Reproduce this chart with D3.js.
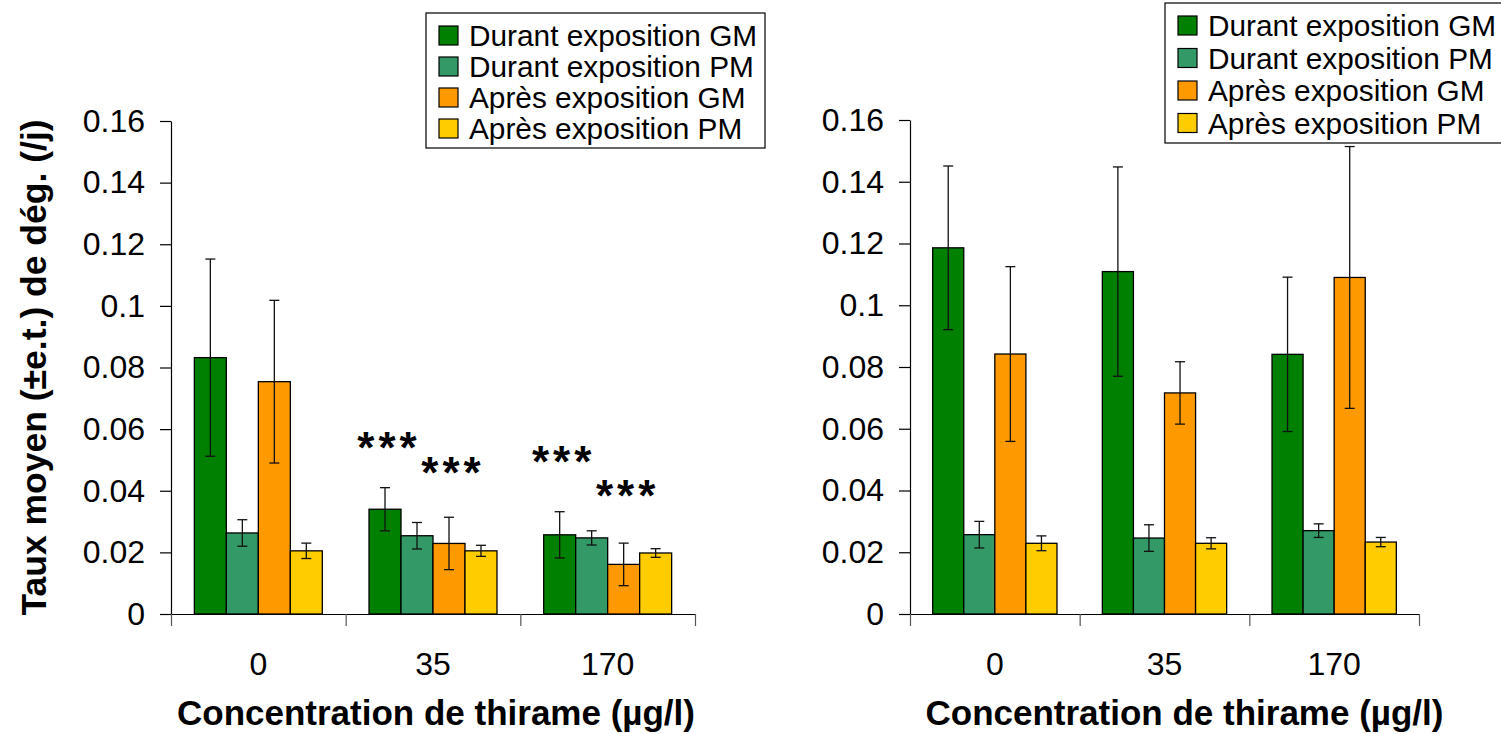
<!DOCTYPE html>
<html>
<head>
<meta charset="utf-8">
<script src="https://cdn.jsdelivr.net/npm/d3@7"></script>
<style>
  body { margin: 0; background: #fff; }
  svg { display: block; font-family: "Liberation Sans", Arial, sans-serif; }
</style>
</head>
<body>
<script>
var categories = ["0", "35", "170"];
var seriesNames = ["Durant exposition GM", "Durant exposition PM", "Après exposition GM", "Après exposition PM"];
var seriesColors = ["#008000", "#339966", "#FF9900", "#FFCC00"];
var yTicks = [0, 0.02, 0.04, 0.06, 0.08, 0.1, 0.12, 0.14, 0.16];

// left panel (means and standard errors per concentration)
var durantGM_A = [0.0832, 0.0340, 0.0257];
var durantGM_A_err = [0.0320, 0.0070, 0.0075];
var durantPM_A = [0.0263, 0.0254, 0.0247];
var durantPM_A_err = [0.0043, 0.0043, 0.0023];
var apresGM_A = [0.0754, 0.0229, 0.0161];
var apresGM_A_err = [0.0264, 0.0085, 0.0069];
var apresPM_A = [0.0205, 0.0205, 0.0198];
var apresPM_A_err = [0.0025, 0.0018, 0.0014];

// right panel
var durantGM_B = [0.1186, 0.1109, 0.0841];
var durantGM_B_err = [0.0265, 0.0339, 0.0250];
var durantPM_B = [0.0257, 0.0246, 0.0270];
var durantPM_B_err = [0.0043, 0.0043, 0.0022];
var apresGM_B = [0.0842, 0.0716, 0.1090];
var apresGM_B_err = [0.0283, 0.0101, 0.0424];
var apresPM_B = [0.0229, 0.0229, 0.0233];
var apresPM_B_err = [0.0024, 0.0018, 0.0015];

// significance marks (left panel): category, series index, height in data units
var starsCat = ["35", "35", "170", "170"];
var starsSeries = [0, 2, 0, 2];
var starsValue = [0.0572, 0.0489, 0.0525, 0.0415];

var xTitle = "Concentration de thirame (µg/l)";
var yTitle = "Taux moyen (±e.t.) de dég. (/j)";

var svg = d3.select("body").append("svg")
    .attr("width", 1501)
    .attr("height", 734);

drawPanel({
  left: 171, right: 695, top: 121, bottom: 614,
  means: [durantGM_A, durantPM_A, apresGM_A, apresPM_A],
  errs: [durantGM_A_err, durantPM_A_err, apresGM_A_err, apresPM_A_err],
  legendTop: 13, legendRow: 31, legendH: 135, legendW: 339,
  titleShift: 3, yTitle: true, stars: true
});

drawPanel({
  left: 910, right: 1419, top: 120, bottom: 614,
  means: [durantGM_B, durantPM_B, apresGM_B, apresPM_B],
  errs: [durantGM_B_err, durantPM_B_err, apresGM_B_err, apresPM_B_err],
  legendTop: 3, legendRow: 32.5, legendH: 140, legendW: 345,
  titleShift: 20, yTitle: false, stars: false
});

function drawPanel(p) {
  var g = svg.append("g");

  var x = d3.scaleBand().domain(categories).range([p.left, p.right]);
  var xs = d3.scaleBand().domain(d3.range(seriesNames.length))
      .range([0, x.bandwidth()]).paddingOuter(0.73);
  var y = d3.scaleLinear().domain([0, 0.16]).range([p.bottom, p.top]);

  // bars
  var rows = [];
  categories.forEach(function(c, i) {
    p.means.forEach(function(s, j) {
      rows.push({c: c, j: j, v: s[i], e: p.errs[j][i]});
    });
  });

  g.append("g").selectAll("rect")
    .data(rows)
    .enter().append("rect")
      .attr("x", function(d) { return x(d.c) + xs(d.j); })
      .attr("y", function(d) { return y(d.v); })
      .attr("width", xs.bandwidth())
      .attr("height", function(d) { return y(0) - y(d.v); })
      .attr("fill", function(d) { return seriesColors[d.j]; })
      .attr("stroke", "#000")
      .attr("stroke-width", 1.3);

  // error bars
  var eb = g.append("g").attr("stroke", "#111").attr("stroke-width", 1.3);
  var cx = function(d) { return x(d.c) + xs(d.j) + xs.bandwidth() / 2; };
  eb.selectAll("line.v").data(rows).enter().append("line")
    .attr("class", "v")
    .attr("x1", cx).attr("x2", cx)
    .attr("y1", function(d) { return y(d.v + d.e); })
    .attr("y2", function(d) { return y(d.v - d.e); });
  [1, -1].forEach(function(sign) {
    eb.selectAll("line.c" + (sign > 0 ? "p" : "m")).data(rows).enter().append("line")
      .attr("x1", function(d) { return cx(d) - 5; })
      .attr("x2", function(d) { return cx(d) + 5; })
      .attr("y1", function(d) { return y(d.v + sign * d.e); })
      .attr("y2", function(d) { return y(d.v + sign * d.e); });
  });

  // y axis
  var ya = g.append("g")
      .attr("transform", "translate(" + p.left + ",0)")
      .call(d3.axisLeft(y)
        .tickValues(yTicks)
        .tickSize(11)
        .tickSizeOuter(0)
        .tickPadding(15)
        .tickFormat(function(d) { return String(+d.toFixed(2)); }));
  ya.selectAll("text").attr("font-size", 32).attr("fill", "#000")
    .attr("font-family", "Liberation Sans, Arial, sans-serif");
  ya.selectAll("line, path").attr("stroke", "#000").attr("stroke-width", 1.2);

  // x axis with ticks between categories
  var xb = d3.scaleLinear().domain([0, categories.length]).range([p.left, p.right]);
  var xa = g.append("g")
      .attr("transform", "translate(0," + p.bottom + ")")
      .call(d3.axisBottom(xb).ticks(categories.length).tickSize(12).tickSizeOuter(0).tickFormat(""));
  xa.selectAll("line, path").attr("stroke", "#000").attr("stroke-width", 1.2);
  xa.selectAll(".tick line").attr("stroke", "#555");

  var xl = g.append("g")
      .attr("transform", "translate(0," + p.bottom + ")")
      .call(d3.axisBottom(x).tickSize(0).tickPadding(38));
  xl.select(".domain").remove();
  xl.selectAll("text").attr("font-size", 32).attr("fill", "#000")
    .attr("font-family", "Liberation Sans, Arial, sans-serif");

  g.append("text")
    .attr("x", (p.left + p.right) / 2 + p.titleShift)
    .attr("y", p.bottom + 111)
    .attr("text-anchor", "middle")
    .attr("font-size", 35)
    .attr("font-weight", "bold")
    .text(xTitle);

  if (p.yTitle) {
    g.append("text")
      .attr("transform", "translate(46," + ((p.top + p.bottom) / 2) + ") rotate(-90)")
      .attr("text-anchor", "middle")
      .attr("font-size", 35.5)
      .attr("font-weight", "bold")
      .text(yTitle);
  }

  if (p.stars) {
    g.append("g").selectAll("text")
      .data(starsValue)
      .enter().append("text")
        .attr("x", function(d, i) { return x(starsCat[i]) + xs(starsSeries[i]) + xs.bandwidth() / 2; })
        .attr("y", function(d) { return y(d) + 25; })
        .attr("dx", 4)
        .attr("text-anchor", "middle")
        .attr("font-size", 44)
        .attr("font-weight", "bold")
        .attr("letter-spacing", 4)
        .text("***");
  }

  // legend
  var lg = g.append("g")
      .attr("transform", "translate(" + (p.left + 255) + "," + p.legendTop + ")");
  lg.append("rect")
    .attr("width", p.legendW).attr("height", p.legendH)
    .attr("fill", "#fff").attr("stroke", "#000").attr("stroke-width", 1.2);
  var items = lg.selectAll("g.item")
    .data(seriesNames)
    .enter().append("g")
      .attr("class", "item")
      .attr("transform", function(d, i) { return "translate(0," + (22.5 + i * p.legendRow) + ")"; });
  items.append("rect")
    .attr("x", 13).attr("y", -9.5)
    .attr("width", 19).attr("height", 19)
    .attr("fill", function(d, i) { return seriesColors[i]; })
    .attr("stroke", "#000").attr("stroke-width", 1.2);
  items.append("text")
    .attr("x", 43).attr("y", 10.5)
    .attr("font-size", 29.8)
    .attr("fill", "#000")
    .text(function(d) { return d; });
}
</script>
</body>
</html>
